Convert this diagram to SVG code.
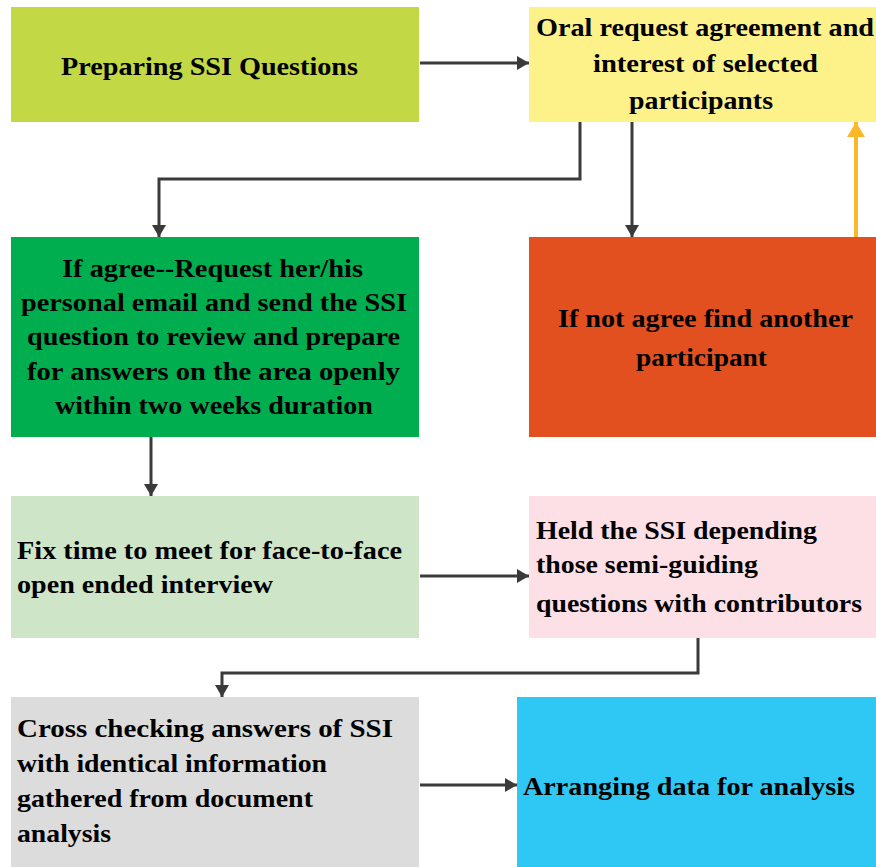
<svg xmlns="http://www.w3.org/2000/svg" width="876" height="867" viewBox="0 0 876 867">
  <defs>
    <marker id="head" markerUnits="userSpaceOnUse" viewBox="0 0 12 14" refX="12" refY="7" markerWidth="12" markerHeight="14" orient="auto">
      <path d="M0,0 L12,7 L0,14 Z" fill="#3a3a3a"/>
    </marker>
    <marker id="head-gold" markerUnits="userSpaceOnUse" viewBox="0 0 15 18" refX="15" refY="9" markerWidth="15" markerHeight="18" orient="auto">
      <path d="M0,0 L15,9 L0,18 Z" fill="#fbb829"/>
    </marker>
    <style>
      .lbl { font-family: "Liberation Serif", "Times New Roman", serif; font-weight: bold; font-size: 25.5px; fill: #000; }
      .link { fill: none; stroke: #3a3a3a; stroke-width: 3; marker-end: url(#head); }
      .link-gold { fill: none; stroke: #fbb829; stroke-width: 4; marker-end: url(#head-gold); }
    </style>
  </defs>
  <rect width="876" height="867" fill="#ffffff"/>

  <!-- connectors -->
  <g id="connectors">
    <path class="link" d="M420,63 H529"/>
    <path class="link" d="M580,122 V179 H159 V237"/>
    <path class="link" d="M632,122 V237"/>
    <path class="link-gold" d="M856,237 V122"/>
    <path class="link" d="M151,437 V496"/>
    <path class="link" d="M420,576 H529"/>
    <path class="link" d="M698,638 V673 H222 V697"/>
    <path class="link" d="M420,785 H517"/>
  </g>

  <g id="prepare">
    <rect x="11" y="7" width="408" height="115" fill="#c2d845"/>
    <text class="lbl" x="61" y="75" textLength="297" lengthAdjust="spacingAndGlyphs">Preparing SSI Questions</text>
  </g>

  <g id="oral-request">
    <rect x="529" y="7" width="347" height="115" fill="#fdf18a"/>
    <text class="lbl" x="536" y="36" textLength="338" lengthAdjust="spacingAndGlyphs">Oral request agreement and</text>
    <text class="lbl" x="593" y="72" textLength="225" lengthAdjust="spacingAndGlyphs">interest of selected</text>
    <text class="lbl" x="629" y="109" textLength="144" lengthAdjust="spacingAndGlyphs">participants</text>
  </g>

  <g id="agree">
    <rect x="11" y="237" width="408" height="200" fill="#00ae50"/>
    <text class="lbl" x="62" y="277" textLength="301" lengthAdjust="spacingAndGlyphs">If agree--Request her/his</text>
    <text class="lbl" x="21" y="311" textLength="386" lengthAdjust="spacingAndGlyphs">personal email and send the SSI</text>
    <text class="lbl" x="27" y="345" textLength="373" lengthAdjust="spacingAndGlyphs">question to review and prepare</text>
    <text class="lbl" x="27" y="380" textLength="373" lengthAdjust="spacingAndGlyphs">for answers on the area openly</text>
    <text class="lbl" x="55" y="414" textLength="318" lengthAdjust="spacingAndGlyphs">within two weeks duration</text>
  </g>

  <g id="not-agree">
    <rect x="529" y="237" width="347" height="200" fill="#e2501f"/>
    <text class="lbl" x="558" y="327" textLength="295" lengthAdjust="spacingAndGlyphs">If not agree find another</text>
    <text class="lbl" x="636" y="366" textLength="131" lengthAdjust="spacingAndGlyphs">participant</text>
  </g>

  <g id="fix-time">
    <rect x="11" y="496" width="408" height="142" fill="#cfe5c8"/>
    <text class="lbl" x="17" y="559" textLength="385" lengthAdjust="spacingAndGlyphs">Fix time to meet for face-to-face</text>
    <text class="lbl" x="17" y="593" textLength="256" lengthAdjust="spacingAndGlyphs">open ended interview</text>
  </g>

  <g id="held-ssi">
    <rect x="529" y="496" width="347" height="142" fill="#fde0e6"/>
    <text class="lbl" x="536" y="539" textLength="281" lengthAdjust="spacingAndGlyphs">Held the SSI depending</text>
    <text class="lbl" x="536" y="573" textLength="222" lengthAdjust="spacingAndGlyphs">those semi-guiding</text>
    <text class="lbl" x="536" y="612" textLength="326" lengthAdjust="spacingAndGlyphs">questions with contributors</text>
  </g>

  <g id="cross-check">
    <rect x="11" y="697" width="408" height="170" fill="#dcdcdc"/>
    <text class="lbl" x="17" y="737" textLength="376" lengthAdjust="spacingAndGlyphs">Cross checking answers of SSI</text>
    <text class="lbl" x="17" y="772" textLength="310" lengthAdjust="spacingAndGlyphs">with identical information</text>
    <text class="lbl" x="17" y="807" textLength="296" lengthAdjust="spacingAndGlyphs">gathered from document</text>
    <text class="lbl" x="17" y="842" textLength="94" lengthAdjust="spacingAndGlyphs">analysis</text>
  </g>

  <g id="arrange">
    <rect x="517" y="697" width="359" height="170" fill="#2fc8f5"/>
    <text class="lbl" x="523" y="795" textLength="332" lengthAdjust="spacingAndGlyphs">Arranging data for analysis</text>
  </g>
</svg>
